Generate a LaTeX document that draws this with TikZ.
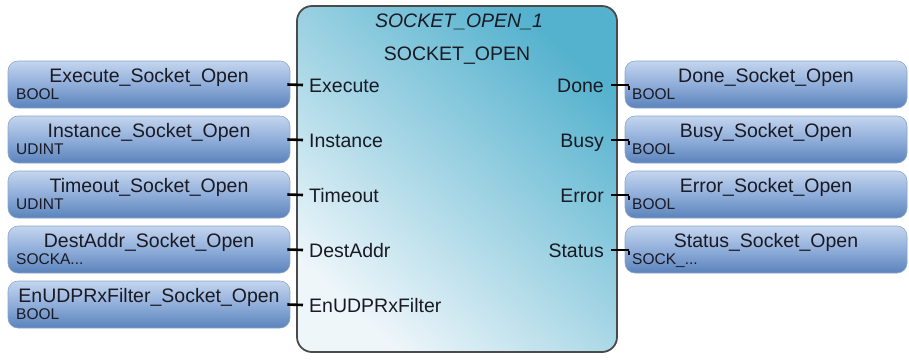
\documentclass[tikz,border=0pt]{standalone}
\usepackage{fontspec}
\setmainfont{Liberation Sans}
\newcommand\myell{...}
\begin{document}
\begin{tikzpicture}[x=1pt,y=-1pt,
  varbox/.style={draw=boxedge, line width=0.6pt, rounded corners=10pt,
    top color=boxtop, bottom color=boxbot, middle color=boxmid,
    minimum width=282pt, minimum height=47pt, inner sep=0pt},
  block/.style={draw=blockedge, line width=1.8pt, rounded corners=15pt,
    top color=blocktop, bottom color=blockbot, shading angle=-42,
    minimum width=320pt, minimum height=346pt, inner sep=0pt},
  bigtxt/.style={font=\fontsize{19.5}{22}\selectfont, text=txt, inner sep=0pt, anchor=base},
  typetxt/.style={font=\fontsize{15.5}{17}\selectfont, text=txt, inner sep=0pt, anchor=base west},
  pinline/.style={line width=2.6pt, draw=black},
]
\definecolor{boxtop}{HTML}{C4D5EE}
\definecolor{boxmid}{HTML}{90AEDA}
\definecolor{boxbot}{HTML}{5A83BB}
\definecolor{boxedge}{HTML}{8CA6CC}
\definecolor{blocktop}{HTML}{55B2CE}
\definecolor{blockbot}{HTML}{EEF6FA}
\definecolor{blockedge}{HTML}{4A4A4A}
\definecolor{txt}{HTML}{1A1A24}
\useasboundingbox (0,0) rectangle (909,360);

% function block
\node[block] (blk) at (457,179) {};
\node[bigtxt, font=\fontsize{19.5}{22}\selectfont\itshape] (inst) at (459,27) {SOCKET\_OPEN\_1};
\node[bigtxt] (type) at (457,60) {SOCKET\_OPEN};

% input variable boxes
\foreach \i/\nm/\ty/\pn [count=\k from 0] in {
  ie/Execute\_Socket\_Open/BOOL/Execute,
  ii/Instance\_Socket\_Open/UDINT/Instance,
  it/Timeout\_Socket\_Open/UDINT/Timeout,
  id/DestAddr\_Socket\_Open/SOCKA\myell/DestAddr,
  iu/EnUDPRxFilter\_Socket\_Open/BOOL/EnUDPRxFilter}{
  \node[varbox] (\i) at (149,84.5+55*\k) {};
  \node[bigtxt] (\i n) at (149,82+55*\k) {\nm};
  \node[typetxt] (\i t) at (16,99+55*\k) {\ty};
  \node[bigtxt, anchor=base west] (\i p) at (309,92+55*\k) {\pn};
  \coordinate (\i c) at (303,85+55*\k);
  \draw[pinline] ([xshift=-3pt]\i.east) -- (\i c);
}

% output variable boxes
\foreach \i/\nm/\ty/\pn [count=\k from 0] in {
  od/Done\_Socket\_Open/BOOL/Done,
  ob/Busy\_Socket\_Open/BOOL/Busy,
  oe/Error\_Socket\_Open/BOOL/Error,
  os/Status\_Socket\_Open/SOCK\_\myell/Status}{
  \node[varbox] (\i) at (766,84.5+55*\k) {};
  \node[bigtxt] (\i n) at (766,82+55*\k) {\nm};
  \node[typetxt] (\i t) at (632,99+55*\k) {\ty};
  \node[bigtxt, anchor=base east] (\i p) at (604,92+55*\k) {\pn};
  \coordinate (\i c) at (611,85+55*\k);
  \coordinate (\i k) at (629,85+55*\k);
  \draw[pinline] (\i c) -- (\i k);
  \draw[line width=1.4pt] ([yshift=-1pt]\i k) -- ++(0,4);
}
\end{tikzpicture}
\end{document}
